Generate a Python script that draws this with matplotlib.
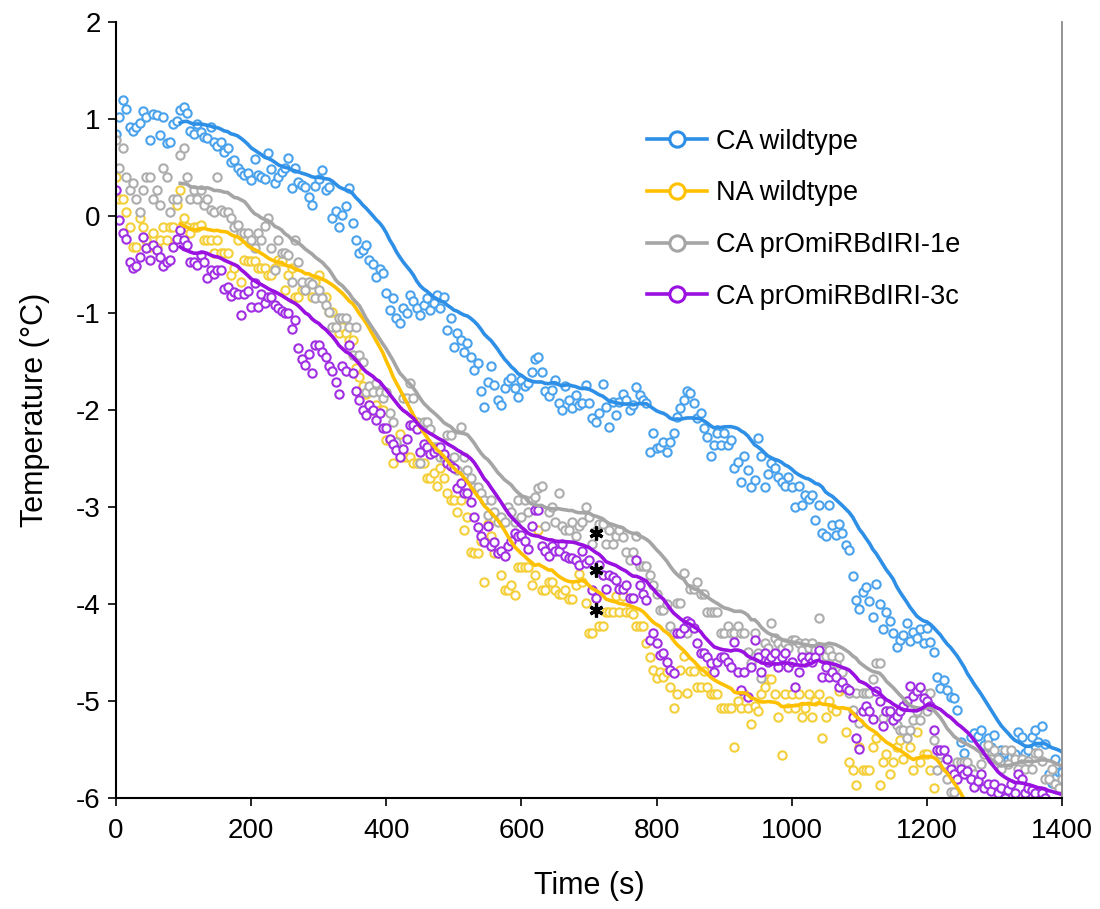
import numpy as np
import pandas as pd
import matplotlib
matplotlib.use("Agg")
import matplotlib.pyplot as plt
from matplotlib.lines import Line2D

plt.rcParams['font.family'] = ['Liberation Sans', 'DejaVu Sans']
plt.rcParams['axes.unicode_minus'] = False

# readings every 5 s, temperature in degC
step = 5
window = 20  # moving-average trendline period

ca_wildtype = [
    0.85, 1.02, 1.20, 1.10, 0.92, 0.88, 0.92, 0.96, 1.08, 1.02, 0.78, 1.05, 1.04, 0.84, 1.02, 0.75, 0.76, 0.95, 0.98, 1.09,
    1.12, 1.06, 0.88, 0.85, 0.95, 0.87, 0.81, 0.80, 0.92, 0.76, 0.72, 0.76, 0.66, 0.70, 0.56, 0.58, 0.49, 0.45, 0.42, 0.44,
    0.37, 0.59, 0.42, 0.40, 0.38, 0.65, 0.48, 0.34, 0.40, 0.45, 0.50, 0.60, 0.29, 0.49, 0.35, 0.32, 0.30, 0.20, 0.11, 0.31,
    0.38, 0.47, 0.27, 0.30, -0.02, 0.05, -0.11, 0.01, 0.10, 0.29, -0.07, -0.25, -0.38, -0.35, -0.30, -0.45, -0.49, -0.63, -0.55, -0.59,
    -0.79, -0.97, -0.85, -1.05, -1.10, -0.95, -1.00, -0.81, -0.88, -0.95, -1.02, -0.92, -0.85, -0.97, -0.90, -0.81, -0.95, -0.83, -1.18, -1.05,
    -1.35, -1.21, -1.28, -1.40, -1.31, -1.45, -1.59, -1.52, -1.80, -1.97, -1.71, -1.55, -1.74, -1.90, -1.95, -1.77, -1.70, -1.67, -1.77, -1.87,
    -1.69, -1.75, -1.72, -1.61, -1.47, -1.45, -1.61, -1.80, -1.86, -1.79, -1.69, -1.93, -2.00, -1.75, -1.90, -1.98, -1.84, -1.95, -1.93, -1.74,
    -1.93, -2.08, -2.12, -2.03, -1.73, -1.97, -2.17, -1.92, -2.05, -1.92, -1.83, -1.90, -2.00, -1.95, -1.76, -1.84, -1.90, -1.93, -2.43, -2.24,
    -2.39, -2.38, -2.33, -2.43, -2.33, -2.24, -2.07, -1.98, -1.90, -1.80, -1.82, -1.93, -2.08, -2.03, -2.19, -2.28, -2.47, -2.36, -2.24, -2.36,
    -2.24, -2.36, -2.31, -2.60, -2.54, -2.74, -2.47, -2.62, -2.79, -2.72, -2.29, -2.47, -2.79, -2.66, -2.55, -2.60, -2.69, -2.74, -2.78, -2.69,
    -2.79, -3.00, -2.78, -2.98, -2.88, -2.92, -2.88, -3.13, -2.98, -3.27, -3.30, -2.98, -3.19, -3.29, -3.17, -3.27, -3.39, -3.44, -3.71, -3.96,
    -4.05, -3.88, -3.82, -3.97, -4.13, -3.79, -4.00, -4.26, -4.08, -4.17, -4.30, -4.44, -4.37, -4.32, -4.20, -4.38, -4.29, -4.35, -4.26, -4.40,
    -4.25, -4.39, -4.49, -4.75, -4.87, -4.78, -4.89, -4.96, -4.97, -5.09, -5.42, -5.54, -5.75, -5.37, -5.33, -5.36, -5.30, -5.45, -5.38, -5.47,
    -5.35, -5.54, -5.50, -5.54, -5.61, -5.58, -5.55, -5.32, -5.37, -5.53, -5.50, -5.37, -5.30, -5.42, -5.26, -5.44, -5.75, -5.84, -5.60, -5.73,
    -5.73,
]

na_wildtype = [
    0.40, 0.18, 0.18, 0.04, -0.11, -0.32, -0.32, -0.02, -0.11, -0.25, -0.32, -0.18, -0.32, -0.25, -0.11, -0.25, -0.11, -0.11, 0.11, 0.27,
    -0.02, -0.11, -0.18, -0.11, -0.11, -0.09, -0.25, -0.25, -0.25, -0.38, -0.25, -0.38, -0.38, -0.38, -0.61, -0.54, -0.25, -0.68, -0.45, -0.46,
    -0.46, -0.46, -0.54, -0.54, -0.54, -0.61, -0.61, -0.54, -0.45, -0.46, -0.76, -0.61, -0.54, -0.83, -0.83, -0.76, -0.76, -0.68, -0.83, -0.68,
    -0.61, -0.83, -0.83, -0.99, -0.99, -1.14, -1.21, -1.14, -1.21, -1.28, -1.28, -1.57, -1.66, -1.75, -1.83, -1.95, -2.00, -1.95, -2.00, -2.00,
    -2.31, -2.31, -2.55, -2.35, -2.25, -2.48, -2.48, -2.48, -2.55, -2.55, -2.55, -2.55, -2.70, -2.70, -2.65, -2.78, -2.60, -2.70, -2.85, -2.93,
    -2.93, -3.05, -2.93, -3.24, -3.10, -3.46, -3.47, -3.47, -3.35, -3.77, -3.17, -3.30, -3.47, -3.47, -3.70, -3.85, -3.85, -3.80, -3.91, -3.62,
    -3.62, -3.62, -3.62, -3.80, -3.70, -3.24, -3.85, -3.85, -3.77, -3.77, -3.85, -3.90, -3.90, -3.85, -3.95, -3.95, -3.80, -3.69, -3.77, -3.99,
    -4.30, -4.30, -3.94, -4.23, -4.23, -4.08, -4.08, -4.08, -3.92, -4.08, -3.92, -4.08, -4.08, -4.10, -4.23, -4.23, -4.23, -4.40, -4.55, -4.68,
    -4.76, -4.70, -4.75, -4.70, -4.85, -5.07, -4.93, -4.68, -4.54, -4.92, -4.69, -4.69, -4.85, -4.85, -4.69, -4.85, -4.93, -4.93, -4.93, -5.07,
    -5.07, -5.07, -5.07, -5.47, -5.00, -5.07, -4.93, -5.07, -5.24, -5.05, -5.10, -4.93, -4.85, -4.77, -4.77, -4.93, -5.16, -5.56, -4.93, -5.07,
    -4.93, -5.07, -4.93, -5.16, -5.07, -4.93, -5.16, -5.00, -4.93, -5.38, -5.16, -5.00, -5.07, -5.10, -4.90, -4.86, -5.32, -5.63, -5.71, -5.86,
    -5.47, -5.71, -5.71, -5.71, -5.47, -5.38, -5.87, -5.63, -5.55, -5.75, -5.63, -5.47, -5.40, -5.60, -5.32, -5.47, -5.71, -5.32, -5.63, -5.55,
    -5.55, -5.71, -5.90, -6.20, -6.40, -6.50, -6.55, -6.60, -6.60, -6.70, -6.75, -6.80, -6.85, -6.90, -6.95, -7.00, -7.05,
]

ca_1e = [
    0.78, 0.49, 0.70, 0.40, 0.27, 0.34, 0.18, 0.04, 0.27, 0.40, 0.40, 0.18, 0.27, 0.11, 0.49, 0.40, 0.04, 0.18, 0.18, 0.63,
    0.70, 0.40, 0.18, 0.27, 0.18, 0.27, 0.11, 0.18, 0.06, 0.04, 0.40, 0.06, 0.04, 0.04, -0.02, -0.11, -0.09, -0.18, -0.18, -0.18,
    -0.25, -0.33, -0.18, -0.25, -0.10, -0.02, -0.33, -0.56, -0.25, -0.38, -0.38, -0.40, -0.68, -0.25, -0.47, -0.68, -0.76, -0.68, -0.70, -0.85,
    -0.76, -0.85, -0.92, -0.99, -1.14, -1.14, -1.05, -1.05, -1.05, -1.14, -1.43, -1.14, -1.43, -1.50, -1.81, -1.75, -1.81, -1.72, -1.81, -1.88,
    -1.81, -2.03, -2.12, -2.33, -2.40, -1.88, -1.88, -1.72, -1.88, -2.12, -2.55, -2.12, -2.12, -2.20, -2.38, -2.38, -2.48, -2.48, -2.26, -2.26,
    -2.48, -2.62, -2.17, -2.48, -2.62, -2.70, -2.79, -2.79, -2.86, -2.93, -3.08, -2.93, -3.05, -3.15, -3.10, -3.15, -3.00, -3.05, -3.15, -2.93,
    -3.10, -2.93, -3.05, -2.93, -2.90, -2.80, -2.78, -3.20, -3.05, -3.00, -3.15, -2.86, -3.20, -3.24, -3.24, -3.15, -3.30, -3.20, -3.15, -3.00,
    -3.10, -3.38, -3.25, -3.17, -3.17, -3.38, -3.24, -3.38, -3.30, -3.24, -3.31, -3.46, -3.55, -3.46, -3.30, -3.61, -3.61, -3.61, -3.70, -3.80,
    -3.90, -4.06, -4.06, -4.00, -4.23, -4.30, -3.99, -3.99, -3.68, -4.30, -3.84, -3.84, -3.77, -3.90, -3.90, -4.08, -4.08, -4.08, -4.08, -4.30,
    -4.30, -4.23, -4.30, -4.30, -4.23, -4.30, -4.30, -4.49, -4.61, -4.30, -4.50, -4.76, -4.40, -4.45, -4.20, -4.35, -4.40, -4.45, -4.40, -4.45,
    -4.37, -4.37, -4.40, -4.47, -4.40, -4.45, -4.40, -4.47, -4.14, -4.47, -4.54, -4.47, -4.54, -4.61, -4.55, -4.70, -4.86, -4.92, -5.09, -4.92,
    -5.23, -4.92, -4.92, -4.92, -4.77, -4.61, -4.61, -5.17, -5.10, -5.10, -5.20, -5.25, -5.30, -5.30, -5.38, -5.30, -5.20, -5.10, -5.20, -4.92,
    -5.10, -4.92, -5.40, -5.71, -5.55, -5.65, -5.80, -5.94, -5.94, -5.63, -5.63, -5.63, -5.63, -5.70, -5.75, -5.80, -5.65, -5.55, -5.45, -5.60,
    -5.50, -5.60, -5.70, -5.50, -5.65, -5.50, -5.60, -5.70, -5.60, -5.70, -5.62, -5.70, -5.54, -5.54, -5.62, -5.80, -5.80, -5.70, -5.85, -5.90,
    -5.80,
]

ca_3c = [
    0.27, -0.04, -0.18, -0.24, -0.47, -0.54, -0.52, -0.42, -0.22, -0.33, -0.45, -0.30, -0.35, -0.42, -0.52, -0.47, -0.45, -0.32, -0.24, -0.14,
    -0.25, -0.30, -0.47, -0.47, -0.50, -0.40, -0.47, -0.64, -0.56, -0.60, -0.56, -0.56, -0.75, -0.73, -0.82, -0.78, -0.80, -1.02, -0.80, -0.77,
    -0.94, -0.69, -0.94, -0.80, -0.90, -0.83, -0.83, -0.92, -0.95, -0.98, -1.00, -1.00, -1.16, -1.07, -1.36, -1.47, -1.54, -1.42, -1.62, -1.33,
    -1.33, -1.40, -1.45, -1.55, -1.60, -1.71, -1.83, -1.55, -1.60, -1.33, -1.62, -1.80, -1.90, -2.00, -2.05, -1.95, -2.00, -2.10, -2.03, -2.19,
    -2.19, -2.30, -2.35, -2.41, -2.48, -2.40, -2.30, -2.15, -2.15, -2.20, -2.43, -2.35, -2.38, -2.45, -2.43, -2.40, -2.38, -2.45, -2.55, -2.58,
    -2.60, -2.80, -2.75, -2.86, -2.86, -2.95, -3.10, -3.21, -3.30, -3.36, -3.20, -3.40, -3.36, -3.47, -3.45, -3.50, -3.40, -3.35, -3.27, -3.30,
    -3.29, -3.35, -3.43, -3.20, -3.03, -3.03, -3.40, -3.45, -3.50, -3.40, -3.45, -3.45, -3.38, -3.50, -3.52, -3.52, -3.55, -3.60, -3.45, -3.58,
    -3.55, -3.86, -3.94, -3.60, -3.70, -3.84, -3.70, -3.72, -3.75, -3.84, -3.84, -3.80, -3.94, -3.94, -3.55, -3.80, -3.90, -3.96, -4.37, -4.30,
    -4.40, -4.53, -4.50, -4.60, -4.68, -4.71, -4.30, -4.30, -4.25, -4.17, -4.20, -4.25, -4.40, -4.50, -4.50, -4.55, -4.61, -4.70, -4.60, -4.55,
    -4.55, -4.60, -4.65, -4.39, -4.70, -4.89, -4.70, -4.96, -4.65, -4.37, -4.55, -4.70, -4.50, -4.60, -4.55, -4.50, -4.65, -4.55, -4.50, -4.65,
    -4.60, -4.85, -4.70, -4.55, -4.60, -4.55, -4.60, -4.55, -4.47, -4.75, -4.65, -4.75, -4.70, -4.75, -4.85, -4.80, -4.87, -4.89, -5.16, -5.38,
    -5.49, -5.10, -5.05, -5.10, -5.18, -4.90, -5.00, -5.26, -5.10, -5.10, -5.20, -5.15, -5.10, -5.05, -5.00, -4.84, -4.95, -4.90, -4.85, -4.97,
    -5.00, -5.05, -5.30, -5.50, -5.50, -5.50, -5.60, -5.70, -5.75, -5.80, -5.70, -5.75, -5.72, -5.80, -5.89, -5.82, -5.75, -5.90, -5.85, -5.93,
    -5.85, -5.95, -5.90, -6.00, -5.92, -5.85, -5.95, -5.75, -5.80, -5.95, -5.90, -5.92, -5.95, -6.05, -5.95, -6.00, -6.10, -6.05, -6.10, -6.10,
    -6.10,
]

labels = ["CA wildtype", "NA wildtype", "CA prOmiRBdIRI-1e", "CA prOmiRBdIRI-3c"]
series = [ca_wildtype, na_wildtype, ca_1e, ca_3c]
line_colors = ["#2E8FE6", "#FFC000", "#A5A5A5", "#9A10E0"]
marker_colors = ["#4AA2EC", "#F4CF3A", "#ADADAD", "#A02EE2"]

# significance marks at t = 710 s
star_t = 710
star_y = [-3.27, -3.65, -4.06]

fig = plt.figure(figsize=(11, 9.09), dpi=100)
ax = fig.add_axes([0.1055, 0.122, 0.86, 0.8538])

# scatter points first
for vals, mc in zip(series, marker_colors):
    t = np.arange(len(vals)) * step
    ax.plot(t, vals, linestyle="none", marker="o", markersize=6.0,
            markerfacecolor="white", markeredgecolor=mc, markeredgewidth=1.5)

# moving average trendlines on top
for vals, lc in zip(series, line_colors):
    t = np.arange(len(vals)) * step
    ma = pd.Series(vals).rolling(window).mean()
    ax.plot(t, ma, color=lc, linewidth=2.6)

for y in star_y:
    ax.plot(star_t, y, marker=(6, 2, 0), markersize=10, color="black",
            markeredgewidth=2.3, linestyle="none")

ax.set_xlim(0, 1400)
ax.set_ylim(-6, 2)
ax.set_xticks(range(0, 1401, 200))
ax.set_yticks(range(-6, 3))
ax.tick_params(axis="both", direction="out", length=6, width=1.2,
               labelsize=20)
ax.tick_params(axis="x", pad=8)
ax.tick_params(axis="y", pad=5)

ax.spines["top"].set_visible(False)
ax.spines["right"].set_color("#8C8C8C")
ax.spines["right"].set_linewidth(1.3)
ax.spines["left"].set_linewidth(1.5)
ax.spines["bottom"].set_linewidth(1.5)

ax.set_xlabel("Time (s)", fontsize=22, labelpad=20)
ax.set_ylabel("Temperature (°C)", fontsize=22, labelpad=19)

handles = [Line2D([0], [0], color=lc, linewidth=2.6, marker="o", markersize=11,
                  markerfacecolor="white", markeredgecolor=lc, markeredgewidth=2.2)
           for lc in line_colors]
ax.legend(handles, labels, loc="upper left", bbox_to_anchor=(0.547, 0.880),
          frameon=False, fontsize=19.5, borderpad=0, handlelength=2.2,
          handletextpad=0.35, labelspacing=0.95)

fig.savefig("out.png", dpi=100)
